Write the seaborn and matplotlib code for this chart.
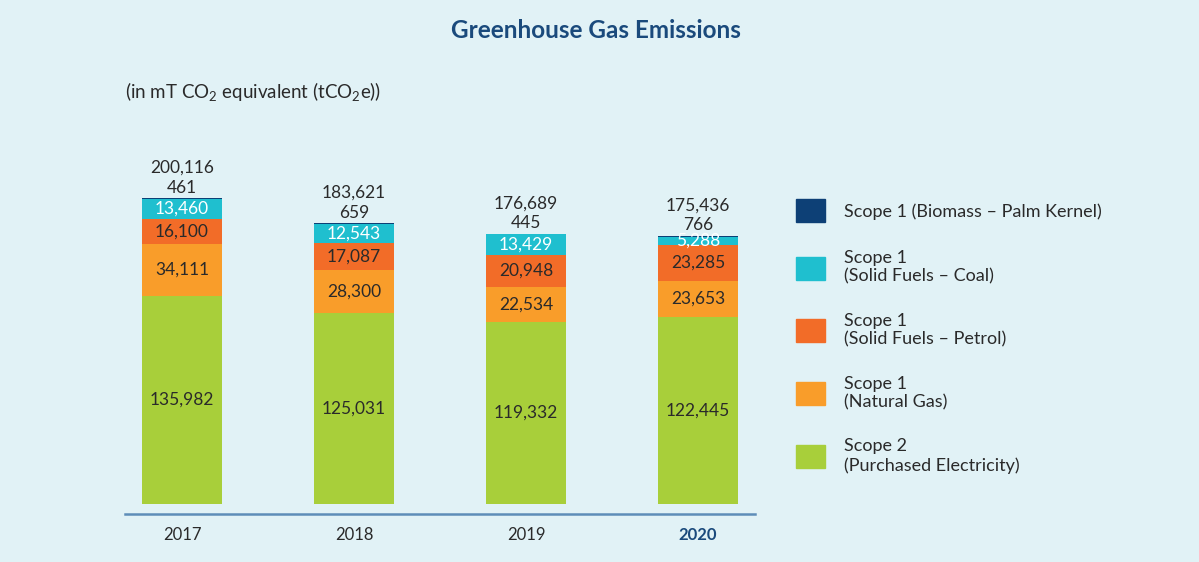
import numpy as np
import pandas as pd
import matplotlib
matplotlib.use("Agg")
import matplotlib.pyplot as plt
import seaborn as sns

# Datos (tCO2e)
years = ["2017", "2018", "2019", "2020"]
electricity = [135982, 125031, 119332, 122445]
natural_gas = [34111, 28300, 22534, 23653]
petrol = [16100, 17087, 20948, 23285]
coal = [13460, 12543, 13429, 5288]
biomass = [461, 659, 445, 766]
totals = [200116, 183621, 176689, 175436]

series_names = [
    "Scope 2\n(Purchased Electricity)",
    "Scope 1\n(Natural Gas)",
    "Scope 1\n(Solid Fuels \u2013 Petrol)",
    "Scope 1\n(Solid Fuels \u2013 Coal)",
    "Scope 1 (Biomass \u2013 Palm Kernel)",
]
series_values = [electricity, natural_gas, petrol, coal, biomass]
colors = ["#A8CF3A", "#F99D2A", "#F26C28", "#1FBFCF", "#0D4076"]
text_colors = ["#2A2A2A", "#2A2A2A", "#2A2A2A", "#FFFFFF", "#2A2A2A"]

bg = "#E1F2F6"
dark = "#2A2A2A"
navy = "#1A4A7C"

sns.set_theme(style="white")
plt.rcParams["font.family"] = ["Lato", "DejaVu Sans"]
plt.rcParams["mathtext.fontset"] = "custom"
plt.rcParams["mathtext.rm"] = "Lato"

vals = np.array(series_values, dtype=float)
cum = np.cumsum(vals, axis=0)

fig = plt.figure(figsize=(11.99, 5.62), dpi=100, facecolor=bg)
ax = fig.add_axes([125 / 1199, 48 / 562, 630 / 1199, 414 / 562])
ax.set_facecolor(bg)

# barras apiladas: se dibujan los acumulados de arriba hacia abajo
handles = []
for i in range(len(series_names) - 1, -1, -1):
    df = pd.DataFrame({"year": years, "value": cum[i]})
    sns.barplot(data=df, x="year", y="value", order=years, color=colors[i],
                width=0.465, saturation=1, ax=ax, linewidth=0, errorbar=None)
    handles.append(plt.Rectangle((0, 0), 1, 1, color=colors[i]))

# etiquetas dentro de los segmentos
for i in range(len(series_names) - 1):
    for j in range(len(years)):
        mid = cum[i, j] - vals[i, j] / 2
        ax.text(j, mid, f"{int(vals[i, j]):,}", ha="center", va="center",
                fontsize=12.5, color=text_colors[i])

# biomasa y total encima
for j in range(len(years)):
    ax.annotate(f"{biomass[j]:,}", (j, cum[-1, j]), xytext=(0, 7.5),
                textcoords="offset points", ha="center", va="center",
                fontsize=12.5, color=dark)
    ax.annotate(f"{totals[j]:,}", (j, cum[-1, j]), xytext=(0, 22),
                textcoords="offset points", ha="center", va="center",
                fontsize=12.5, color=dark)

ax.set_xlim(-0.331, 3.331)
ax.set_ylim(-6540, 264200)
ax.set_xlabel("")
ax.set_ylabel("")
ax.set_yticks([])
for s in ["top", "left", "right"]:
    ax.spines[s].set_visible(False)
ax.spines["bottom"].set_color("#5E8DB8")
ax.spines["bottom"].set_linewidth(1.8)
ax.tick_params(axis="x", length=0, pad=9, labelsize=12, labelcolor=dark)
lbls = ax.get_xticklabels()
lbls[-1].set_fontweight("bold")
lbls[-1].set_color(navy)

fig.text(596 / 1199, 1 - 31 / 562, "Greenhouse Gas Emissions", ha="center",
         va="center", fontsize=17.5, fontweight="bold", color=navy)
fig.text(125 / 1199, 1 - 92 / 562,
         r"(in mT CO$_\mathregular{2}$ equivalent (tCO$_\mathregular{2}$e))",
         ha="left", va="center", fontsize=13.5, color=dark)

fig.legend(handles=handles, labels=series_names[::-1], loc="upper left",
           bbox_to_anchor=(796 / 1199, 1 - 199 / 562), frameon=False,
           borderpad=0, borderaxespad=0,
           handlelength=1.6, handleheight=1.6, labelspacing=1.55,
           handletextpad=1.05, fontsize=13, labelcolor=dark)

fig.savefig("out.png", dpi=100, facecolor=bg)
